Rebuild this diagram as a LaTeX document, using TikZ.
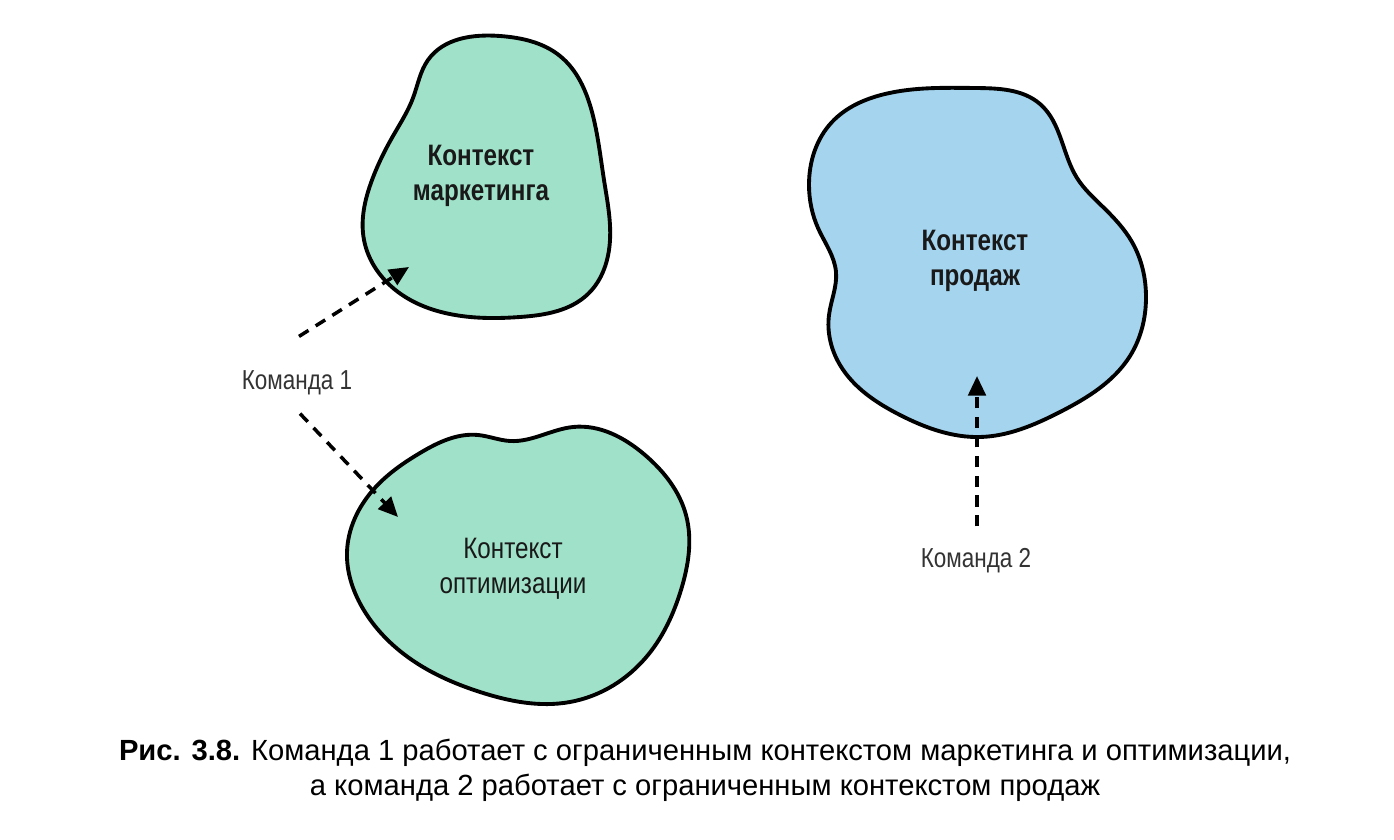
\documentclass[tikz,border=0pt]{standalone}
\usepackage{fontspec}
\setmainfont{Liberation Sans}
\newfontfamily\narrowfont[FakeStretch=0.82]{Liberation Sans}
\usetikzlibrary{arrows.meta,hobby}

\definecolor{mktgreen}{HTML}{A0E1C9}
\definecolor{salesblue}{HTML}{A5D5EE}
\definecolor{labelgray}{HTML}{333333}

\tikzset{
  blob/.style={draw=black, line width=1.1pt, use Hobby shortcut, closed=true},
  ctxlabel/.style={align=center, font=\narrowfont\fontsize{8.4}{10}\selectfont, text=black!90},
  ctxbold/.style={ctxlabel, font=\narrowfont\bfseries\fontsize{8.4}{10}\selectfont},
  teamlabel/.style={font=\narrowfont\fontsize{7.8}{9}\selectfont, text=labelgray},
  cmdarrow/.style={dashed, dash pattern=on 3.2pt off 2.4pt, line width=1pt,
    -{Triangle[length=5.6pt,width=5pt]}}
}

\begin{document}
\begin{tikzpicture}[x=0.01cm,y=-0.01cm]
\useasboundingbox (0,0) rectangle (1394,840);

% contexts
    \draw[blob, fill=mktgreen] (500,36) .. (560,56) .. (592,112) .. (604,180)
      .. (610,240) .. (588,294) .. (520,317) .. (455,315) .. (398,292)
      .. (364,240) .. (372,180) .. (393,136) .. (413,98) .. (428,60);
    \draw[blob, fill=mktgreen] (347,552) .. (373,490) .. (420,453) .. (478,435)
      .. (510,441) .. (573,427) .. (645,455) .. (686,515) .. (681,590)
      .. (648,655) .. (570,702) .. (480,692) .. (412,660) .. (362,607);
    \draw[blob, fill=salesblue] (975,88) .. (1040,104) .. (1077,178) .. (1103,207)
      .. (1132,242) .. (1146,298) .. (1130,356) .. (1060,412) .. (980,437)
      .. (900,415) .. (840,365) .. (829,315) .. (836,272) .. (818,228)
      .. (809,185) .. (832,122) .. (885,94);

	 % labels
    \node[ctxbold] (mkt) at (481,176) {Контекст\\маркетинга};
    \node[ctxlabel] (opt) at (513,569) {Контекст\\оптимизации};
    \node[ctxbold] (sales) at (975,261) {Контекст\\продаж};
    \node[teamlabel] (cmd1) at (297,383) {Команда 1};
    \node[teamlabel] (cmd2) at (976,561) {Команда 2};

	 % arrows
    \coordinate (mktin) at (409,267);
    \coordinate (optin) at (398,517);
    \coordinate (salesin) at (977,376);
    \draw[cmdarrow] ([shift={(2,-22)}]cmd1.north) -- (mktin);
    \draw[cmdarrow] ([shift={(3,6)}]cmd1.south) -- (optin);
    \draw[cmdarrow] ([shift={(1,-10)}]cmd2.north) -- (salesin);

% caption
    \node[align=center, font=\fontsize{8.3}{10}\selectfont] (caption) at (705,770)
      {\textbf{Рис. 3.8.} Команда 1 работает с ограниченным контекстом маркетинга и оптимизации,\\
       а команда 2 работает с ограниченным контекстом продаж};
\end{tikzpicture}
\end{document}
